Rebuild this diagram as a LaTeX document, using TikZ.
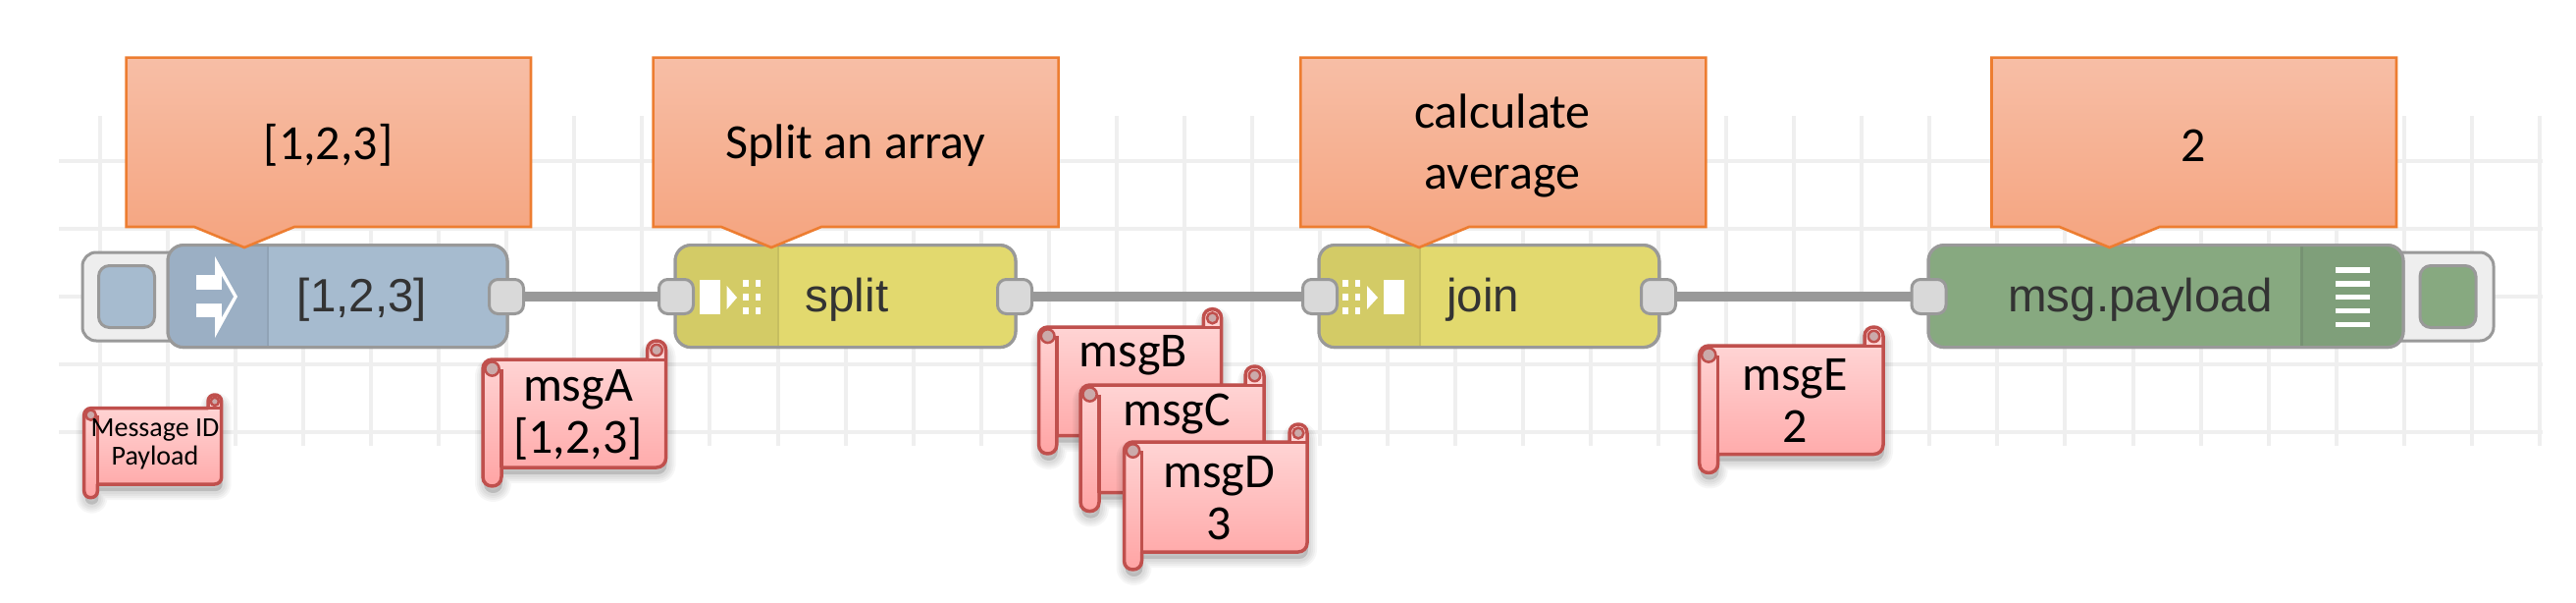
\documentclass[tikz,border=0pt]{standalone}
\usepackage{fontspec}
\newfontfamily\calib{Carlito}
\newfontfamily\arialf{Liberation Sans}
\pgfdeclarelayer{gridlayer}
\pgfdeclarelayer{wirelayer}
\pgfsetlayers{gridlayer,wirelayer,main}
\definecolor{gridc}{HTML}{EFEFEF}
\definecolor{nodeline}{HTML}{999999}
\definecolor{portfill}{HTML}{D9D9D9}
\definecolor{btnfill}{HTML}{EEEEEE}
\definecolor{blueN}{HTML}{A6BBCF}
\definecolor{blueH}{HTML}{9BAFC4}
\definecolor{blueD}{HTML}{90A3B6}
\definecolor{yelN}{HTML}{E2D96E}
\definecolor{yelH}{HTML}{D3CB66}
\definecolor{yelD}{HTML}{C6BE60}
\definecolor{grnN}{HTML}{87A980}
\definecolor{grnH}{HTML}{7F9F7A}
\definecolor{grnD}{HTML}{769272}
\definecolor{txtN}{HTML}{333333}
\definecolor{calline}{HTML}{ED7D31}
\definecolor{caltop}{HTML}{F7BEA6}
\definecolor{calbot}{HTML}{F5A47F}
\definecolor{scrline}{HTML}{C0504D}
\definecolor{scrtop}{HTML}{FFDCDC}
\definecolor{scrbot}{HTML}{FFA3A3}
\definecolor{curlc}{HTML}{CBAAAA}
\tikzset{
  x=1pt,y=-1pt,
  gridline/.style={gridc,line width=4pt},
  wire/.style={nodeline,line width=9.5pt},
  flownode/.style={draw=nodeline,line width=3pt,rounded corners=16pt,inner sep=0pt,minimum height=104pt},
  nodetext/.style={font=\arialf\fontsize{47.5}{50}\selectfont,text=txtN,inner sep=0pt},
  port/.style={draw=nodeline,fill=portfill,line width=3pt,rounded corners=9pt,minimum width=35pt,minimum height=35pt,inner sep=0pt},
  btnouter/.style={draw=nodeline,fill=btnfill,line width=3pt,rounded corners=14pt,inner sep=0pt,minimum height=90pt},
  btninner/.style={draw=nodeline,line width=3pt,rounded corners=11pt,inner sep=0pt,minimum width=57pt,minimum height=63pt},
  calshape/.style={draw=calline,line width=2.6pt,top color=caltop,bottom color=calbot,line join=miter},
  caltext/.style={font=\calib\fontsize{50}{62}\selectfont,text=black,align=center,inner sep=0pt},
  scrshape/.style={draw=scrline,line width=3.5pt,top color=scrtop,bottom color=scrbot,line join=round},
  scrtext/.style={font=\calib\fontsize{50}{53}\selectfont,text=black,align=center,inner sep=0pt},
  icon/.style={fill=white,draw=none},
}
% callout: x0,x1,tip x, name, text centre x, centre y, text
\newcommand{\calloutbox}[7]{%
  \path[calshape] (#1,58.6) -- (#2,58.6) -- (#2,231) -- ({#3+51},231) -- (#3,252) -- ({#3-51},231) -- (#1,231) -- cycle;
  \node[caltext] (#4) at (#5,#6) {#7};
}
% scroll: name,x0,x1,ytop,ymain,ybot,cx,cy,text
\newcommand{\scrollbox}[9]{%
  \pgfmathsetmacro{\sa}{#5-#4}
  \pgfmathsetmacro{\sr}{\sa/2}
  \pgfmathsetmacro{\sk}{\sa*0.667}
  \def\scrollpath{(#2,{#5+\sr}) .. controls (#2,{#5+\sr*0.45}) and ({#2+\sr*0.45},#5) .. ({#2+\sr},#5)
    -- ({#3-\sa},#5) -- ({#3-\sa},{#4+\sr})
    .. controls ({#3-\sa},{#4+\sr-\sk}) and (#3,{#4+\sr-\sk}) .. (#3,{#4+\sr})
    -- (#3,{#6-\sr}) .. controls (#3,{#6-\sr*0.45}) and ({#3-\sr*0.45},#6) .. ({#3-\sr},#6)
    -- ({#2+\sa},#6) -- ({#2+\sa},{#6+\sr})
    .. controls ({#2+\sa},{#6+\sr+\sk}) and (#2,{#6+\sr+\sk}) .. (#2,{#6+\sr}) -- cycle}
  \foreach \w in {18,14,10,6}{\path[fill=black,fill opacity=.035,draw=black,draw opacity=.035,line width=\w pt,line join=round] [shift={(1,7)}] \scrollpath;}
  \path[scrshape] \scrollpath;
  \draw[scrline,line width=3.5pt] ({#2+\sa},#6) -- ({#2+\sa},{#5+\sr});
  \draw[scrline,line width=2.5pt,fill=curlc] ({#3-\sr},{#4+\sr}) circle[radius={\sr*0.6}];
  \draw[scrline,line width=3pt] ({#3-\sa},#5) -- (#3,#5);
  \draw[scrline,line width=2.5pt,fill=curlc] ({#2+\sr},{#5+\sr}) circle[radius={\sr*0.75}];
  \node[scrtext] (#1) at (#7,#8) {#9};
}
\newcommand{\dotgrid}[2]{%
  \foreach \dx in {0,12.5}{\foreach \dy in {0,14.2,28}{\fill[icon] ({#1+\dx},{#2+\dy}) rectangle ++(5.5,6.5);}}
}
\newcommand{\smallfs}{\fontsize{28}{29}\selectfont}
\begin{document}
\begin{tikzpicture}
\useasboundingbox (0,0) rectangle (2625,613);
% grid
\begin{pgfonlayer}{gridlayer}
  \fill[white] (0,0) rectangle (2625,613);
  \foreach \gy in {164,233,302,371,440}{\draw[gridline] (60,\gy) -- (2591,\gy);}
  \foreach \k in {0,...,36}{\draw[gridline] ({102+69.05*\k},118) -- ({102+69.05*\k},453.5);}
\end{pgfonlayer}

% inject node
\node[btnouter,minimum width=120pt] (injbtn) at (144,302) {};
\node[btninner,fill=blueN] (injled) at (129,302) {};
\node[flownode,fill=blueN,minimum width=346pt] (inject) at (344,301.6) {};
\fill[blueH,rounded corners=14.5pt] (172.5,251) -- (172.5,352.3) -- (200,352.3) [sharp corners] -- (273,352.3) -- (273,251) -- (200,251) [rounded corners=14.5pt] -- cycle;
\draw[blueD,line width=2.5pt] (273,251) -- (273,352.3);
\draw[nodeline,line width=3pt,rounded corners=16pt] (171,249.6) rectangle (517,353.6);
\fill[icon] (219,261) -- (242,302) -- (219,344) -- cycle;
\fill[icon] (200,280) rectangle (226,295);
\fill[icon] (200,309) rectangle (226,323);
\fill[blueH] (200,295) -- (226,295) -- (226,281) -- (238,302) -- (226,323) -- (226,309) -- (200,309) -- cycle;
\node[nodetext] (injtext) at (369,305) {[1,2,3]};
\node[port] (injout) at (516,302) {};

% split node
\node[flownode,fill=yelN,minimum width=347pt] (split) at (861.5,301.6) {};
\fill[yelH,rounded corners=14.5pt] (689.5,251) -- (689.5,352.3) -- (720,352.3) [sharp corners] -- (793,352.3) -- (793,251) -- (720,251) [rounded corners=14.5pt] -- cycle;
\draw[yelD,line width=2.5pt] (793,251) -- (793,352.3);
\draw[nodeline,line width=3pt,rounded corners=16pt] (688,249.6) rectangle (1035,353.6);
\fill[icon] (712.5,284.6) rectangle (734,320);
\fill[icon] (740.6,291) -- (751,303) -- (740.6,315) -- cycle;
\dotgrid{757}{285}
\node[nodetext] (splittext) at (863,305) {split};
\node[port] (splitin) at (689,302) {};
\node[port] (splitout) at (1034,302) {};

% join node
\node[flownode,fill=yelN,minimum width=347pt] (join) at (1517.5,301.6) {};
\fill[yelH,rounded corners=14.5pt] (1345.5,251) -- (1345.5,352.3) -- (1376,352.3) [sharp corners] -- (1447,352.3) -- (1447,251) -- (1376,251) [rounded corners=14.5pt] -- cycle;
\draw[yelD,line width=2.5pt] (1447,251) -- (1447,352.3);
\draw[nodeline,line width=3pt,rounded corners=16pt] (1344,249.6) rectangle (1690.6,353.6);
\dotgrid{1368}{285}
\fill[icon] (1393,291) -- (1404,303) -- (1393,315) -- cycle;
\fill[icon] (1410,284.6) rectangle (1431,320);
\node[nodetext] (jointext) at (1511,305) {join};
\node[port] (joinin) at (1345,302) {};
\node[port] (joinout) at (1690,302) {};

% debug node
\node[btnouter,minimum width=120pt] (dbgbtn) at (2481,302) {};
\node[btninner,fill=grnN] (dbgled) at (2494.5,302) {};
\node[flownode,fill=grnN,minimum width=484pt] (debug) at (2207,301.6) {};
\fill[grnH,rounded corners=14.5pt] (2447.2,251) -- (2447.2,352.3) -- (2420,352.3) [sharp corners] -- (2345.5,352.3) -- (2345.5,251) -- (2420,251) [rounded corners=14.5pt] -- cycle;
\draw[grnD,line width=2.5pt] (2345.5,251) -- (2345.5,352.3);
\draw[nodeline,line width=3pt,rounded corners=16pt] (1965,249.6) rectangle (2449,353.6);
\foreach \ly in {275,289,302.6,316.5,330.6}{\fill[icon] (2380,{\ly-2.8}) rectangle (2415,{\ly+2.8});}
\node[nodetext] (dbgtext) at (2181,305) {msg.payload};
\node[port] (dbgin) at (1965.5,302) {};

% wires
\begin{pgfonlayer}{wirelayer}
  \draw[wire] (injout.center) -- (splitin.center);
  \draw[wire] (splitout.center) -- (joinin.center);
  \draw[wire] (joinout.center) -- (dbgin.center);
\end{pgfonlayer}

% callouts
\calloutbox{128.6}{541}{249}{cal1}{334.5}{148}{[1,2,3]}
\calloutbox{665.6}{1078.6}{786}{cal2}{872}{148}{Split an array}
\calloutbox{1325.4}{1738.4}{1446}{cal3}{1531}{148}{calculate\\average}
\calloutbox{2029.5}{2442}{2149.6}{cal4}{2235}{148}{2}

% scrolls
\scrollbox{legend}{85.7}{225.7}{402}{415.7}{493}{158}{452.5}{\smallfs Message ID\\[-24pt]\smallfs Payload}
\scrollbox{msgA}{492}{678.6}{347}{366}{476}{589}{422}{msgA\\{}[1,2,3]}
\scrollbox{msgB}{1058.5}{1244.6}{314.7}{333}{443.7}{1155}{362}{msgB}
\scrollbox{msgC}{1101}{1288}{373}{392}{501.6}{1199}{422}{msgC}
\scrollbox{msgD}{1145.5}{1332}{432}{450}{562}{1242}{507}{msgD\\3}
\scrollbox{msgE}{1731.7}{1919}{333}{352}{462.5}{1829}{408}{msgE\\2}
\end{tikzpicture}
\end{document}
